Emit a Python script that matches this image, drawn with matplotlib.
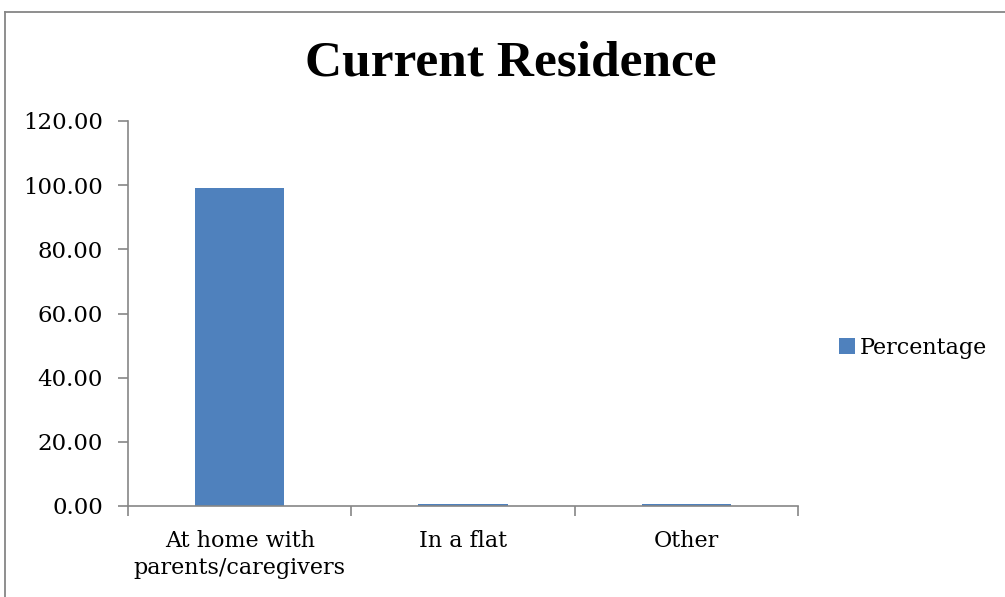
import matplotlib
matplotlib.use("Agg")
import matplotlib.pyplot as plt
from matplotlib.lines import Line2D
import numpy as np

categories = ["At home with\nparents/caregivers", "In a flat", "Other"]
percentages = [99.0, 0.5, 0.5]
y_ticks = [0, 20, 40, 60, 80, 100, 120]
series_name = "Percentage"
title = "Current Residence"

bar_color = "#4F81BD"
axis_color = "#868686"
label_font = ["DejaVu Serif"]
title_font = ["Liberation Serif", "DejaVu Serif"]

plt.rcParams["font.family"] = label_font

fig = plt.figure(figsize=(10.05, 5.97), dpi=100)
ax = fig.add_axes([128 / 1005, 1 - 506 / 597, (798 - 128) / 1005, (506 - 121) / 597])

x = np.arange(len(categories))
ax.bar(x, percentages, width=0.4, color=bar_color, label=series_name, zorder=2)

ax.set_xlim(-0.5, len(categories) - 0.5)
ax.set_ylim(0, 120)
ax.set_yticks(y_ticks)
ax.set_yticklabels([f"{v:.2f}" for v in y_ticks], fontsize=16.5)

# Category labels sit between boundary ticks
ax.set_xticks(x)
ax.set_xticklabels(categories, fontsize=16, linespacing=1.3)
ax.tick_params(axis="x", which="major", length=0, pad=17)
ax.set_xticks(np.arange(-0.5, len(categories)), minor=True)
ax.tick_params(axis="x", which="minor", length=7, color=axis_color, width=1.2)
ax.tick_params(axis="y", length=7, color=axis_color, width=1.2, pad=11)

for side in ("top", "right"):
    ax.spines[side].set_visible(False)
for side in ("left", "bottom"):
    ax.spines[side].set_color(axis_color)
    ax.spines[side].set_linewidth(1.2)

fig.text(511 / 1005, 1 - 64 / 597, title, ha="center", va="center",
         fontsize=37, fontweight="bold", family=title_font)

ax.legend(loc="center left", bbox_to_anchor=(839 / 1005, 1 - 348 / 597),
          bbox_transform=fig.transFigure, frameon=False, fontsize=16,
          handlelength=0.7, handleheight=0.7, handletextpad=0.25, borderpad=0,
          borderaxespad=0)

# Outer chart frame
fig.add_artist(Line2D([4.5 / 1005, 4.5 / 1005], [0, 1 - 11.5 / 597],
                      transform=fig.transFigure, color=axis_color, lw=1.3))
fig.add_artist(Line2D([4.5 / 1005, 1], [1 - 11.5 / 597, 1 - 11.5 / 597],
                      transform=fig.transFigure, color=axis_color, lw=1.3))

fig.savefig("out.png", dpi=100)
